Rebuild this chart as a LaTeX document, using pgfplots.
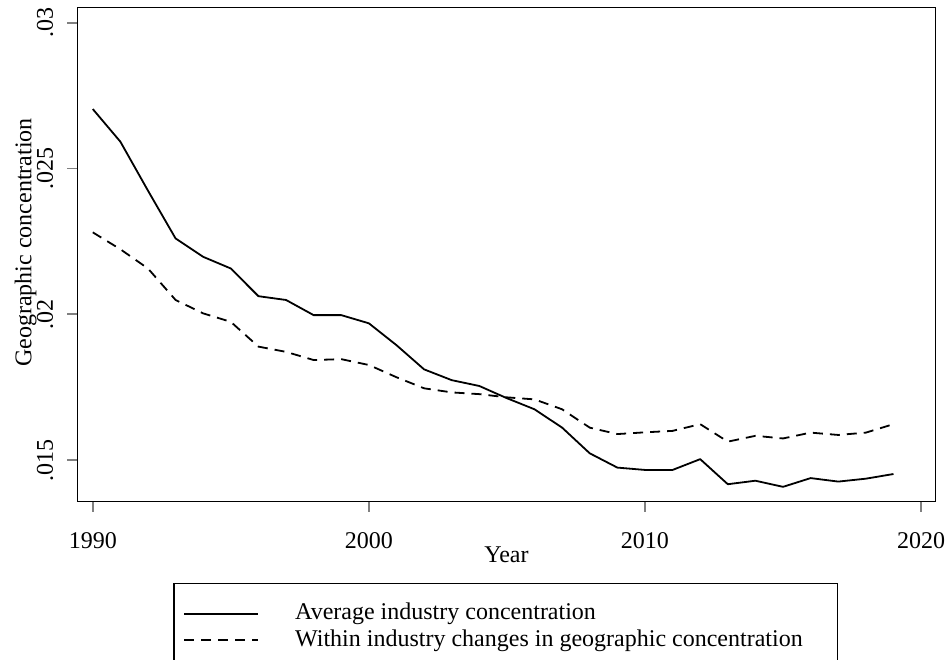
\documentclass[border=0pt]{standalone}
\usepackage{pgfplots}
\pgfplotsset{compat=1.18}
\usepackage{fontspec}
\setmainfont{Liberation Serif}
\pgfplotstableread{
year avg within
1990 .02704 .02281
1991 .02592 .02223
1992 .02424 .02157
1993 .02260 .02049
1994 .02197 .02003
1995 .02157 .01974
1996 .02062 .01889
1997 .02049 .01871
1998 .01997 .01843
1999 .01997 .01846
2000 .01969 .01826
2001 .01894 .01784
2002 .01811 .01746
2003 .01774 .01732
2004 .01754 .01726
2005 .01712 .01715
2006 .01674 .01708
2007 .01611 .01674
2008 .01523 .01611
2009 .01474 .01589
2010 .01466 .01595
2011 .01466 .01600
2012 .01503 .01623
2013 .01417 .01563
2014 .01429 .01583
2015 .01408 .01574
2016 .01438 .01594
2017 .01426 .01586
2018 .01436 .01594
2019 .01452 .01623
}\datatable
\begin{document}
\begin{tikzpicture}
\begin{axis}[
  at={(0pt,0pt)}, anchor=south west,
  scale only axis, width=429.2pt, height=247.2pt,
  xmin=1989.44, xmax=2020.53, ymin=0.01357, ymax=0.03053,
  xtick={1990,2000,2010,2020}, xticklabels={1990,2000,2010,2020},
  ytick={0.015,0.02,0.025,0.03}, yticklabels={.015,.02,.025,.03},
  tick pos=left, tick align=outside, major tick length=5pt,
  every tick/.style={gray, line width=0.8pt},
  axis line style={black, line width=0.7pt},
  scaled y ticks=false,
  tick label style={font=\fontsize{12}{14}\selectfont},
  xticklabel style={anchor=base, yshift=-18.3pt},
  yticklabel style={rotate=90, anchor=south},
  yticklabel shift=3.5pt,
  xlabel={Year}, ylabel={Geographic concentration},
  every axis x label/.style={at={(axis description cs:0.5,0)}, anchor=base, yshift=-30.2pt, font=\fontsize{12}{14}\selectfont},
  every axis y label/.style={at={(axis description cs:0,0.524)}, anchor=base, rotate=90, yshift=23pt, font=\fontsize{12}{14}\selectfont},
  legend style={at={(axis description cs:0,0)}, anchor=north west, xshift=52.85pt, yshift=-50.3pt,
    draw=none, fill=none, inner sep=0pt, font=\fontsize{12}{14}\selectfont,
    nodes={inner sep=0pt, text height=8.5pt, text depth=2.5pt},
    row sep=2.15pt, column sep=0pt},
  legend cell align=left,
  legend image code/.code={\draw[#1] (0pt,0pt) -- (37pt,0pt);},
]
\addplot[black, line width=0.9pt, line join=round] table[x=year, y=avg] {\datatable};
\addlegendentry{\hspace*{18pt}Average industry concentration}
\addplot[black, line width=0.9pt, dash pattern=on 5pt off 3.5pt, line join=round] table[x=year, y=within] {\datatable};
\addlegendentry{\hspace*{18pt}Within industry changes in geographic concentration}
\end{axis}
\draw[black, line width=0.7pt] (48.35pt,-100pt) -- (48.35pt,-40.8pt) -- (380pt,-40.8pt) -- (380pt,-100pt);
\pgfresetboundingbox
\path[use as bounding box] (-38.65pt,-78.65pt) rectangle (433.85pt,250.85pt);
\end{tikzpicture}
\end{document}
